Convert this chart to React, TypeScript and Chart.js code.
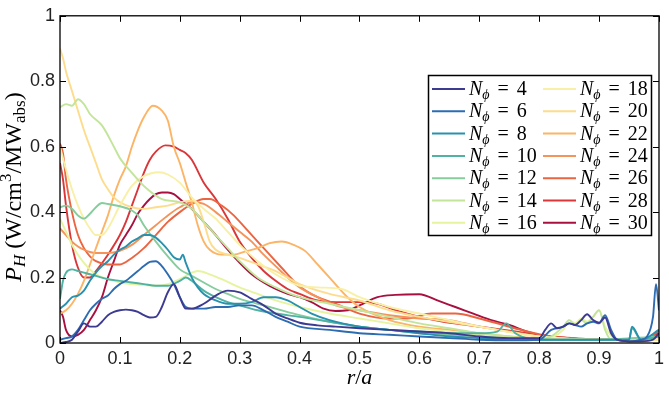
import React, { useEffect, useRef } from 'react';
import { Chart, registerables } from 'chart.js';

Chart.register(...registerables);

// ---------------- data ----------------
const nPhi = [4, 6, 8, 10, 12, 14, 16, 18, 20, 22, 24, 26, 28, 30];

const seriesColors = [
  '#3d3a92', '#2e6cb2', '#2891ad', '#4fb2a2', '#86cc9c', '#c2e59b', '#e6f49f',
  '#f8f0a6', '#fddc8c', '#fcb466', '#f4935a', '#ea6541', '#d9373a', '#a8103f',
];

const xTickLabels = ['0', '0.1', '0.2', '0.3', '0.4', '0.5', '0.6', '0.7', '0.8', '0.9', '1'];
const yTickLabels = ['0', '0.2', '0.4', '0.6', '0.8', '1'];

const r4 = [0, 0.01, 0.02, 0.03, 0.04, 0.05, 0.06, 0.07, 0.08, 0.09, 0.1, 0.11, 0.12, 0.13, 0.14, 0.15, 0.16, 0.17, 0.18, 0.19, 0.2, 0.21, 0.22, 0.24, 0.26, 0.28, 0.3, 0.32, 0.34, 0.36, 0.38, 0.4, 0.43, 0.46, 0.5, 0.55, 0.6, 0.65, 0.7, 0.75, 0.8, 0.81, 0.82, 0.83, 0.84, 0.85, 0.86, 0.87, 0.88, 0.89, 0.9, 0.91, 0.92, 0.93, 0.95, 0.97, 0.99, 1.0];
const p4 = [0, 0.003, 0.01, 0.035, 0.06, 0.05, 0.05, 0.065, 0.085, 0.095, 0.1, 0.102, 0.1, 0.095, 0.085, 0.078, 0.08, 0.11, 0.155, 0.18, 0.14, 0.105, 0.105, 0.12, 0.145, 0.16, 0.155, 0.135, 0.115, 0.09, 0.075, 0.062, 0.054, 0.05, 0.045, 0.04, 0.035, 0.03, 0.02, 0.015, 0.015, 0.04, 0.06, 0.045, 0.05, 0.06, 0.055, 0.07, 0.088, 0.07, 0.062, 0.078, 0.03, 0.01, 0.005, 0.005, 0.01, 0.03];

const r6 = [0, 0.01, 0.02, 0.03, 0.04, 0.05, 0.06, 0.07, 0.08, 0.09, 0.1, 0.11, 0.12, 0.13, 0.14, 0.15, 0.16, 0.17, 0.18, 0.19, 0.2, 0.21, 0.22, 0.24, 0.26, 0.28, 0.3, 0.32, 0.34, 0.36, 0.38, 0.4, 0.45, 0.5, 0.55, 0.6, 0.65, 0.7, 0.75, 0.8, 0.82, 0.84, 0.85, 0.86, 0.87, 0.88, 0.89, 0.9, 0.91, 0.92, 0.93, 0.95, 0.97, 0.98, 0.99, 0.995, 1.0];
const p6 = [0.01, 0.015, 0.02, 0.04, 0.07, 0.1, 0.12, 0.135, 0.145, 0.165, 0.18, 0.19, 0.205, 0.22, 0.235, 0.248, 0.25, 0.235, 0.21, 0.18, 0.14, 0.11, 0.105, 0.105, 0.11, 0.11, 0.115, 0.115, 0.1, 0.08, 0.065, 0.05, 0.04, 0.03, 0.025, 0.02, 0.015, 0.01, 0.008, 0.01, 0.04, 0.05, 0.06, 0.055, 0.05, 0.06, 0.065, 0.06, 0.085, 0.04, 0.01, 0.005, 0.01, 0.02, 0.08, 0.18, 0.1];

const r8 = [0, 0.01, 0.02, 0.03, 0.04, 0.05, 0.06, 0.07, 0.08, 0.09, 0.1, 0.11, 0.12, 0.13, 0.14, 0.15, 0.16, 0.17, 0.18, 0.19, 0.2, 0.205, 0.21, 0.22, 0.23, 0.24, 0.26, 0.28, 0.3, 0.32, 0.34, 0.36, 0.38, 0.4, 0.42, 0.45, 0.5, 0.55, 0.6, 0.65, 0.7, 0.75, 0.8, 0.85, 0.9, 0.95, 0.955, 0.97, 1.0];
const p8 = [0.105, 0.12, 0.14, 0.145, 0.16, 0.19, 0.215, 0.235, 0.25, 0.27, 0.285, 0.295, 0.31, 0.32, 0.33, 0.33, 0.322, 0.305, 0.285, 0.262, 0.255, 0.27, 0.245, 0.2, 0.17, 0.15, 0.13, 0.12, 0.12, 0.125, 0.14, 0.14, 0.13, 0.11, 0.09, 0.07, 0.05, 0.04, 0.03, 0.02, 0.015, 0.01, 0.01, 0.01, 0.01, 0.01, 0.05, 0.01, 0.04];

const r10 = [0, 0.005, 0.01, 0.02, 0.03, 0.04, 0.05, 0.06, 0.08, 0.1, 0.12, 0.14, 0.16, 0.18, 0.2, 0.21, 0.22, 0.24, 0.26, 0.28, 0.3, 0.33, 0.36, 0.4, 0.45, 0.5, 0.55, 0.6, 0.65, 0.7, 0.73, 0.745, 0.76, 0.8, 0.85, 0.9, 0.95, 0.955, 0.97, 1.0];
const p10 = [0.135, 0.19, 0.215, 0.225, 0.22, 0.215, 0.21, 0.205, 0.195, 0.19, 0.185, 0.18, 0.175, 0.175, 0.19, 0.2, 0.19, 0.16, 0.14, 0.125, 0.115, 0.1, 0.09, 0.08, 0.065, 0.05, 0.04, 0.035, 0.03, 0.03, 0.035, 0.06, 0.03, 0.01, 0.01, 0.01, 0.01, 0.045, 0.01, 0.02];

const r12 = [0, 0.01, 0.02, 0.03, 0.04, 0.05, 0.06, 0.07, 0.08, 0.1, 0.12, 0.13, 0.14, 0.16, 0.18, 0.2, 0.22, 0.24, 0.26, 0.28, 0.3, 0.33, 0.36, 0.4, 0.45, 0.5, 0.55, 0.6, 0.7, 0.8, 0.9, 1.0];
const p12 = [0.415, 0.42, 0.41, 0.39, 0.38, 0.395, 0.415, 0.428, 0.425, 0.418, 0.405, 0.39, 0.36, 0.31, 0.265, 0.225, 0.205, 0.185, 0.165, 0.15, 0.135, 0.12, 0.105, 0.085, 0.065, 0.05, 0.04, 0.03, 0.02, 0.01, 0.01, 0.02];

const r14 = [0, 0.01, 0.02, 0.03, 0.04, 0.05, 0.07, 0.09, 0.1, 0.12, 0.14, 0.17, 0.2, 0.22, 0.24, 0.26, 0.28, 0.3, 0.33, 0.36, 0.4, 0.45, 0.5, 0.55, 0.6, 0.65, 0.7, 0.75, 0.8, 0.82, 0.84, 0.85, 0.86, 0.87, 0.88, 0.89, 0.9, 0.91, 0.92, 0.95, 1.0];
const p14 = [0.72, 0.73, 0.725, 0.745, 0.73, 0.7, 0.665, 0.6, 0.565, 0.52, 0.48, 0.44, 0.43, 0.41, 0.37, 0.33, 0.29, 0.25, 0.2, 0.17, 0.14, 0.12, 0.1, 0.08, 0.06, 0.045, 0.03, 0.02, 0.01, 0.02, 0.05, 0.07, 0.055, 0.07, 0.06, 0.08, 0.1, 0.04, 0.01, 0.01, 0.02];

const r16 = [0, 0.01, 0.02, 0.03, 0.04, 0.05, 0.06, 0.08, 0.1, 0.12, 0.14, 0.16, 0.18, 0.2, 0.22, 0.23, 0.25, 0.27, 0.3, 0.33, 0.36, 0.4, 0.45, 0.5, 0.55, 0.6, 0.65, 0.7, 0.75, 0.8, 0.84, 0.85, 0.86, 0.87, 0.88, 0.89, 0.9, 0.91, 0.93, 0.96, 1.0];
const p16 = [0.38, 0.34, 0.3, 0.27, 0.245, 0.225, 0.21, 0.195, 0.185, 0.18, 0.177, 0.175, 0.18, 0.195, 0.215, 0.22, 0.21, 0.195, 0.17, 0.15, 0.13, 0.11, 0.09, 0.075, 0.06, 0.045, 0.035, 0.025, 0.015, 0.01, 0.04, 0.07, 0.06, 0.075, 0.065, 0.08, 0.1, 0.05, 0.01, 0.01, 0.02];

const r18 = [0, 0.01, 0.02, 0.03, 0.04, 0.05, 0.06, 0.07, 0.08, 0.1, 0.12, 0.14, 0.165, 0.18, 0.2, 0.22, 0.24, 0.26, 0.28, 0.3, 0.33, 0.36, 0.4, 0.43, 0.47, 0.5, 0.55, 0.6, 0.65, 0.7, 0.8, 0.9, 1.0];
const p18 = [0.6, 0.53, 0.47, 0.42, 0.38, 0.35, 0.33, 0.33, 0.35, 0.42, 0.48, 0.51, 0.522, 0.515, 0.49, 0.445, 0.41, 0.38, 0.34, 0.3, 0.25, 0.21, 0.175, 0.17, 0.165, 0.14, 0.11, 0.09, 0.07, 0.05, 0.02, 0.01, 0.01];

const r20 = [0, 0.005, 0.01, 0.02, 0.03, 0.04, 0.05, 0.06, 0.07, 0.08, 0.09, 0.1, 0.12, 0.14, 0.16, 0.18, 0.2, 0.22, 0.23, 0.24, 0.25, 0.26, 0.28, 0.3, 0.33, 0.36, 0.4, 0.45, 0.5, 0.55, 0.6, 0.7, 0.8, 0.9, 1.0];
const p20 = [0.9, 0.87, 0.83, 0.77, 0.71, 0.65, 0.6, 0.55, 0.5, 0.47, 0.445, 0.43, 0.415, 0.41, 0.415, 0.42, 0.43, 0.435, 0.42, 0.37, 0.31, 0.285, 0.27, 0.26, 0.24, 0.22, 0.18, 0.15, 0.13, 0.1, 0.08, 0.05, 0.02, 0.01, 0.01];

const r22 = [0, 0.01, 0.02, 0.03, 0.04, 0.05, 0.06, 0.07, 0.08, 0.09, 0.1, 0.11, 0.12, 0.13, 0.14, 0.155, 0.17, 0.18, 0.19, 0.2, 0.21, 0.22, 0.23, 0.24, 0.25, 0.27, 0.29, 0.31, 0.33, 0.35, 0.37, 0.39, 0.41, 0.43, 0.45, 0.48, 0.5, 0.55, 0.6, 0.65, 0.7, 0.75, 0.8, 0.85, 0.9, 0.95, 1.0];
const p22 = [0.09, 0.1, 0.12, 0.15, 0.19, 0.24, 0.29, 0.34, 0.39, 0.45, 0.5, 0.54, 0.6, 0.65, 0.69, 0.725, 0.71, 0.68, 0.6, 0.55, 0.49, 0.43, 0.36, 0.31, 0.285, 0.27, 0.27, 0.28, 0.29, 0.305, 0.31, 0.3, 0.28, 0.24, 0.2, 0.14, 0.11, 0.07, 0.05, 0.04, 0.03, 0.02, 0.015, 0.01, 0.01, 0.01, 0.01];

const r24 = [0, 0.01, 0.02, 0.03, 0.04, 0.05, 0.06, 0.08, 0.1, 0.12, 0.14, 0.16, 0.18, 0.2, 0.22, 0.24, 0.26, 0.28, 0.3, 0.32, 0.34, 0.36, 0.38, 0.4, 0.43, 0.46, 0.5, 0.55, 0.6, 0.65, 0.7, 0.75, 0.8, 0.85, 0.9, 0.95, 1.0];
const p24 = [0.35, 0.33, 0.31, 0.295, 0.285, 0.278, 0.275, 0.275, 0.282, 0.3, 0.33, 0.36, 0.39, 0.415, 0.43, 0.425, 0.4, 0.37, 0.34, 0.31, 0.27, 0.235, 0.2, 0.17, 0.14, 0.115, 0.1, 0.085, 0.075, 0.07, 0.05, 0.035, 0.02, 0.01, 0.01, 0.01, 0.02];

const r26 = [0, 0.005, 0.01, 0.02, 0.03, 0.04, 0.05, 0.06, 0.08, 0.1, 0.12, 0.14, 0.16, 0.18, 0.2, 0.22, 0.24, 0.25, 0.27, 0.29, 0.31, 0.33, 0.35, 0.37, 0.39, 0.41, 0.43, 0.46, 0.5, 0.55, 0.58, 0.62, 0.66, 0.7, 0.74, 0.78, 0.82, 0.86, 0.9, 0.95, 0.98, 1.0];
const p26 = [0.61, 0.58, 0.5, 0.4, 0.33, 0.29, 0.265, 0.25, 0.24, 0.24, 0.26, 0.29, 0.33, 0.37, 0.4, 0.425, 0.44, 0.44, 0.42, 0.39, 0.35, 0.31, 0.27, 0.23, 0.19, 0.16, 0.14, 0.12, 0.09, 0.075, 0.075, 0.09, 0.09, 0.075, 0.055, 0.035, 0.02, 0.015, 0.01, 0.01, 0.01, 0.04];

const r28 = [0, 0.005, 0.01, 0.02, 0.03, 0.04, 0.05, 0.06, 0.08, 0.1, 0.11, 0.12, 0.13, 0.14, 0.15, 0.16, 0.176, 0.19, 0.2, 0.21, 0.22, 0.24, 0.26, 0.28, 0.3, 0.32, 0.34, 0.36, 0.38, 0.4, 0.43, 0.46, 0.5, 0.53, 0.56, 0.6, 0.64, 0.68, 0.72, 0.76, 0.8, 0.85, 0.9, 0.95, 0.98, 1.0];
const p28 = [0.55, 0.5, 0.42, 0.3, 0.23, 0.2, 0.2, 0.22, 0.27, 0.33, 0.37, 0.42, 0.47, 0.52, 0.56, 0.585, 0.604, 0.6, 0.59, 0.58, 0.56, 0.49, 0.44, 0.38, 0.31, 0.26, 0.22, 0.19, 0.165, 0.15, 0.13, 0.125, 0.125, 0.12, 0.1, 0.08, 0.065, 0.055, 0.045, 0.035, 0.025, 0.015, 0.01, 0.01, 0.01, 0.03];

const r30 = [0, 0.005, 0.01, 0.02, 0.03, 0.04, 0.05, 0.06, 0.07, 0.08, 0.09, 0.1, 0.11, 0.12, 0.13, 0.14, 0.15, 0.16, 0.17, 0.18, 0.19, 0.2, 0.21, 0.22, 0.24, 0.26, 0.28, 0.3, 0.32, 0.34, 0.36, 0.38, 0.4, 0.42, 0.44, 0.46, 0.48, 0.5, 0.53, 0.56, 0.6, 0.63, 0.66, 0.69, 0.72, 0.75, 0.78, 0.8, 0.85, 0.9, 0.95, 0.97, 0.99, 1.0];
const p30 = [0.1, 0.08, 0.04, 0.02, 0.025, 0.04, 0.07, 0.1, 0.14, 0.2, 0.25, 0.3, 0.33, 0.36, 0.395, 0.42, 0.44, 0.455, 0.46, 0.46, 0.455, 0.44, 0.425, 0.41, 0.37, 0.33, 0.285, 0.245, 0.21, 0.185, 0.165, 0.15, 0.14, 0.125, 0.105, 0.098, 0.1, 0.115, 0.14, 0.147, 0.149, 0.13, 0.11, 0.09, 0.07, 0.055, 0.035, 0.025, 0.015, 0.01, 0.01, 0.01, 0.02, 0.04];

const radii = [r4, r6, r8, r10, r12, r14, r16, r18, r20, r22, r24, r26, r28, r30];
const powers = [p4, p6, p8, p10, p12, p14, p16, p18, p20, p22, p24, p26, p28, p30];

// ---------------- drawing helpers ----------------
const SERIF = '"Liberation Serif", "DejaVu Serif", serif';

type Part = { t: string; f: string; dy: number };

function drawParts(ctx: CanvasRenderingContext2D, parts: Part[], cx: number, baseY: number) {
  let total = 0;
  for (const p of parts) {
    ctx.font = p.f;
    total += ctx.measureText(p.t).width;
  }
  let x = cx - total / 2;
  for (const p of parts) {
    ctx.font = p.f;
    ctx.fillText(p.t, x, baseY + p.dy);
    x += ctx.measureText(p.t).width;
  }
}

const decorPlugin = {
  id: 'decor',
  afterDatasetsDraw(chart: any) {
    const { ctx, chartArea: a, scales } = chart;
    const xs = scales.x;
    const ys = scales.y;
    ctx.save();
    // axes box
    ctx.strokeStyle = '#000';
    ctx.lineWidth = 1.3;
    ctx.strokeRect(a.left, a.top, a.right - a.left, a.bottom - a.top);
    // inward ticks
    const tl = 6;
    ctx.lineWidth = 1;
    ctx.beginPath();
    xTickLabels.forEach((_, i) => {
      const px = Math.round(xs.getPixelForValue(i / 10)) + 0.5;
      ctx.moveTo(px, a.bottom);
      ctx.lineTo(px, a.bottom - tl);
      ctx.moveTo(px, a.top);
      ctx.lineTo(px, a.top + tl);
    });
    yTickLabels.forEach((_, i) => {
      const py = Math.round(ys.getPixelForValue(i / 5)) + 0.5;
      ctx.moveTo(a.left, py);
      ctx.lineTo(a.left + tl, py);
      ctx.moveTo(a.right, py);
      ctx.lineTo(a.right - tl, py);
    });
    ctx.stroke();

    // legend
    const bx = 428, by = 75, bw = 223, bh = 160;
    ctx.fillStyle = '#fff';
    ctx.fillRect(bx, by, bw, bh);
    ctx.lineWidth = 1.5;
    ctx.strokeStyle = '#000';
    ctx.strokeRect(bx + 0.5, by + 0.5, bw, bh);
    chart.data.datasets.forEach((ds: any, i: number) => {
      const col = Math.floor(i / 7);
      const row = i % 7;
      const lx = bx + 4 + col * 111;
      const ly = by + 14 + row * 22.3;
      ctx.strokeStyle = ds.borderColor;
      ctx.lineWidth = 2;
      ctx.beginPath();
      ctx.moveTo(lx, ly);
      ctx.lineTo(lx + 33, ly);
      ctx.stroke();
      let tx = lx + 37;
      const base = ly + 6;
      ctx.fillStyle = '#000';
      ctx.textAlign = 'left';
      ctx.textBaseline = 'alphabetic';
      ctx.font = `italic 20px ${SERIF}`;
      ctx.fillText('N', tx, base);
      tx += ctx.measureText('N').width;
      ctx.font = `italic 14px ${SERIF}`;
      ctx.fillText('ϕ', tx, base + 4);
      tx += ctx.measureText('ϕ').width + 8;
      ctx.font = `20px ${SERIF}`;
      ctx.fillText('=', tx, base);
      tx += ctx.measureText('=').width + 8;
      ctx.fillText(String(nPhi[i]), tx, base);
    });

    // x title
    ctx.fillStyle = '#000';
    ctx.textAlign = 'left';
    ctx.textBaseline = 'alphabetic';
    drawParts(
      ctx,
      [
        { t: 'r', f: `italic 22px ${SERIF}`, dy: 0 },
        { t: '/', f: `22px ${SERIF}`, dy: 0 },
        { t: 'a', f: `italic 22px ${SERIF}`, dy: 0 },
      ],
      (a.left + a.right) / 2,
      384
    );

    // y title
    ctx.save();
    ctx.translate(21, 187);
    ctx.rotate(-Math.PI / 2);
    drawParts(
      ctx,
      [
        { t: 'P', f: `italic 24px ${SERIF}`, dy: 0 },
        { t: 'H', f: `italic 17px ${SERIF}`, dy: 4 },
        { t: ' (W/cm', f: `24px ${SERIF}`, dy: 0 },
        { t: '3', f: `17px ${SERIF}`, dy: -10 },
        { t: '/MW', f: `24px ${SERIF}`, dy: 0 },
        { t: 'abs', f: `17px ${SERIF}`, dy: 4 },
        { t: ')', f: `24px ${SERIF}`, dy: 0 },
      ],
      0,
      0
    );
    ctx.restore();
    ctx.restore();
  },
};

export default function App() {
  const ref = useRef<HTMLCanvasElement | null>(null);

  useEffect(() => {
    document.body.style.margin = '0';
    const canvas = ref.current;
    if (!canvas) return;
    const datasets = nPhi.map((n, i) => ({
      label: `N_ϕ = ${n}`,
      data: radii[i].map((x, j) => ({ x, y: powers[i][j] })),
      borderColor: seriesColors[i],
      backgroundColor: seriesColors[i],
      borderWidth: 1.9,
      pointRadius: 0,
      fill: false,
      cubicInterpolationMode: 'monotone' as const,
    }));
    const chart = new Chart(canvas, {
      type: 'line',
      data: { datasets },
      options: {
        animation: false,
        responsive: false,
        events: [],
        layout: { padding: { top: 7, right: 2, left: 0, bottom: 0 } },
        plugins: { legend: { display: false }, tooltip: { enabled: false }, title: { display: false } },
        scales: {
          x: {
            type: 'linear',
            min: 0,
            max: 1,
            grid: { display: false, drawTicks: false },
            border: { display: false },
            ticks: {
              stepSize: 0.1,
              padding: 5,
              color: '#222',
              font: { family: '"Liberation Sans", Arial, sans-serif', size: 18 },
              maxRotation: 0,
              autoSkip: false,
              callback: (_v: any, idx: number) => xTickLabels[idx],
            },
            afterFit: (s: any) => {
              s.height = 51;
            },
          },
          y: {
            type: 'linear',
            min: 0,
            max: 1,
            grid: { display: false, drawTicks: false },
            border: { display: false },
            ticks: {
              stepSize: 0.2,
              padding: 5,
              color: '#222',
              font: { family: '"Liberation Sans", Arial, sans-serif', size: 18 },
              autoSkip: false,
              callback: (_v: any, idx: number) => yTickLabels[idx],
            },
            afterFit: (s: any) => {
              s.width = 60;
            },
          },
        },
      },
      plugins: [decorPlugin],
    });
    return () => chart.destroy();
  }, []);

  return (
    <div style={{ position: 'relative', width: 669, height: 394 }}>
      <canvas ref={ref} width={669} height={394} />
    </div>
  );
}
